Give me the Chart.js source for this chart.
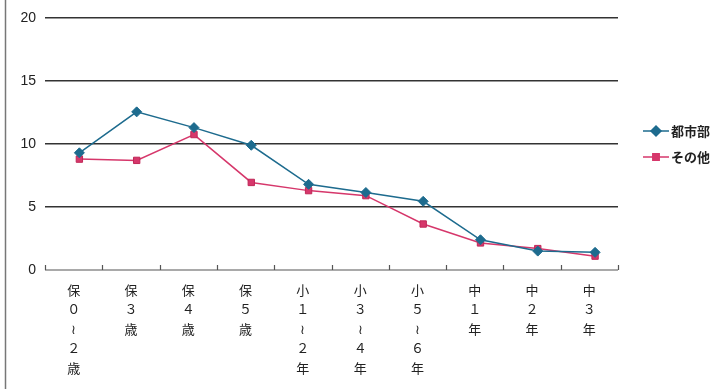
<!DOCTYPE html>
<html lang="ja">
<head>
<meta charset="utf-8">
<style>
  html, body { margin: 0; padding: 0; background: #fff; }
  #wrap { position: relative; width: 712px; height: 389px; }
</style>
<script src="https://cdn.jsdelivr.net/npm/chart.js@4/dist/chart.umd.min.js"></script>
</head>
<body>
<div id="wrap"><canvas id="c" width="712" height="389"></canvas></div>
<script>
// Age groups (stacked vertically, one character per line)
const categories = [
  ["保", "０", "≀", "２", "歳"],
  ["保", "３", "歳"],
  ["保", "４", "歳"],
  ["保", "５", "歳"],
  ["小", "１", "≀", "２", "年"],
  ["小", "３", "≀", "４", "年"],
  ["小", "５", "≀", "６", "年"],
  ["中", "１", "年"],
  ["中", "２", "年"],
  ["中", "３", "年"]
];
const seriesNames = ["都市部", "その他"];
const urbanValues = [9.3, 12.55, 11.3, 9.9, 6.8, 6.15, 5.45, 2.4, 1.5, 1.4];
const otherValues = [8.8, 8.7, 10.75, 6.95, 6.3, 5.9, 3.65, 2.15, 1.7, 1.1];
const yTicks = [0, 5, 10, 15, 20];

const BLUE = "#1d6b8e";
const PINK = "#d6376b";

const toPoints = vals => vals.map((v, i) => ({ x: i, y: v }));

// Axis line with small inward tick marks, plus left frame line and legend
const decor = {
  id: "decor",
  afterDraw(chart) {
    const ctx = chart.ctx;
    const a = chart.chartArea;
    const xs = chart.scales.x;
    ctx.save();
    // frame line on the left edge
    ctx.strokeStyle = "#777";
    ctx.lineWidth = 1.5;
    ctx.beginPath();
    ctx.moveTo(5.5, 0);
    ctx.lineTo(5.5, 389);
    ctx.stroke();

    // category axis and its boundary ticks
    ctx.strokeStyle = "#555";
    ctx.lineWidth = 1.2;
    ctx.beginPath();
    ctx.moveTo(a.left, a.bottom);
    ctx.lineTo(a.right, a.bottom);
    const n = categories.length;
    for (let k = 0; k <= n; k++) {
      const px = Math.round(xs.getPixelForValue(k - 0.5)) + 0.5;
      ctx.moveTo(px, a.bottom);
      ctx.lineTo(px, a.bottom - 5);
    }
    ctx.stroke();

    // legend
    const items = [
      { label: seriesNames[0], color: BLUE, style: "rectRot", r: 5, y: 131 },
      { label: seriesNames[1], color: PINK, style: "rect", r: 4.5, y: 157 }
    ];
    ctx.font = "bold 13px 'Noto Sans CJK JP'";
    ctx.textBaseline = "middle";
    items.forEach(it => {
      ctx.strokeStyle = it.color;
      ctx.lineWidth = 1.5;
      ctx.beginPath();
      ctx.moveTo(643, it.y);
      ctx.lineTo(669, it.y);
      ctx.stroke();
      ctx.fillStyle = it.color;
      Chart.helpers.drawPoint(ctx, { pointStyle: it.style, radius: it.r, borderWidth: 1 }, 656, it.y);
      ctx.fill();
      ctx.fillStyle = "#222";
      ctx.fillText(it.label, 671, it.y);
    });
    ctx.restore();
  }
};

new Chart(document.getElementById("c"), {
  type: "line",
  data: {
    labels: categories,
    datasets: [
      {
        label: seriesNames[0],
        data: toPoints(urbanValues),
        xAxisID: "xp",
        borderColor: BLUE,
        backgroundColor: BLUE,
        borderWidth: 1.5,
        pointStyle: "rectRot",
        pointRadius: 5,
        pointBorderWidth: 1,
        pointBorderColor: BLUE,
        tension: 0
      },
      {
        label: seriesNames[1],
        data: toPoints(otherValues),
        xAxisID: "xp",
        borderColor: PINK,
        backgroundColor: PINK,
        borderWidth: 1.5,
        pointStyle: "rect",
        pointRadius: 4.5,
        pointBorderWidth: 1,
        pointBorderColor: "#c02858",
        tension: 0
      }
    ]
  },
  options: {
    responsive: false,
    animation: false,
    layout: { padding: { top: 18, right: 94, left: 0, bottom: 0 } },
    plugins: { legend: { display: false }, tooltip: { enabled: false } },
    scales: {
      x: {
        type: "category",
        offset: true,
        grid: { display: false, drawTicks: false },
        border: { display: false },
        ticks: {
          autoSkip: false,
          maxRotation: 0,
          padding: 10,
          color: "#222",
          font: { family: "'Noto Sans CJK JP'", size: 13, lineHeight: 1.5 }
        },
        afterFit(s) { s.height = 119; }
      },
      xp: {
        type: "linear",
        display: false,
        min: -0.6,
        max: 9.4
      },
      y: {
        min: 0,
        max: 20,
        afterBuildTicks(s) { s.ticks = yTicks.map(v => ({ value: v })); },
        grid: {
          drawTicks: false,
          color: ctx => ctx.tick && ctx.tick.value === 0 ? "rgba(0,0,0,0)" : "#333",
          lineWidth: 1.6
        },
        border: { display: false },
        ticks: {
          padding: 9,
          color: "#222",
          font: { family: "'Liberation Sans', Arial", size: 14 }
        },
        afterFit(s) { s.width = 45; }
      }
    }
  },
  plugins: [decor]
});
</script>
</body>
</html>
